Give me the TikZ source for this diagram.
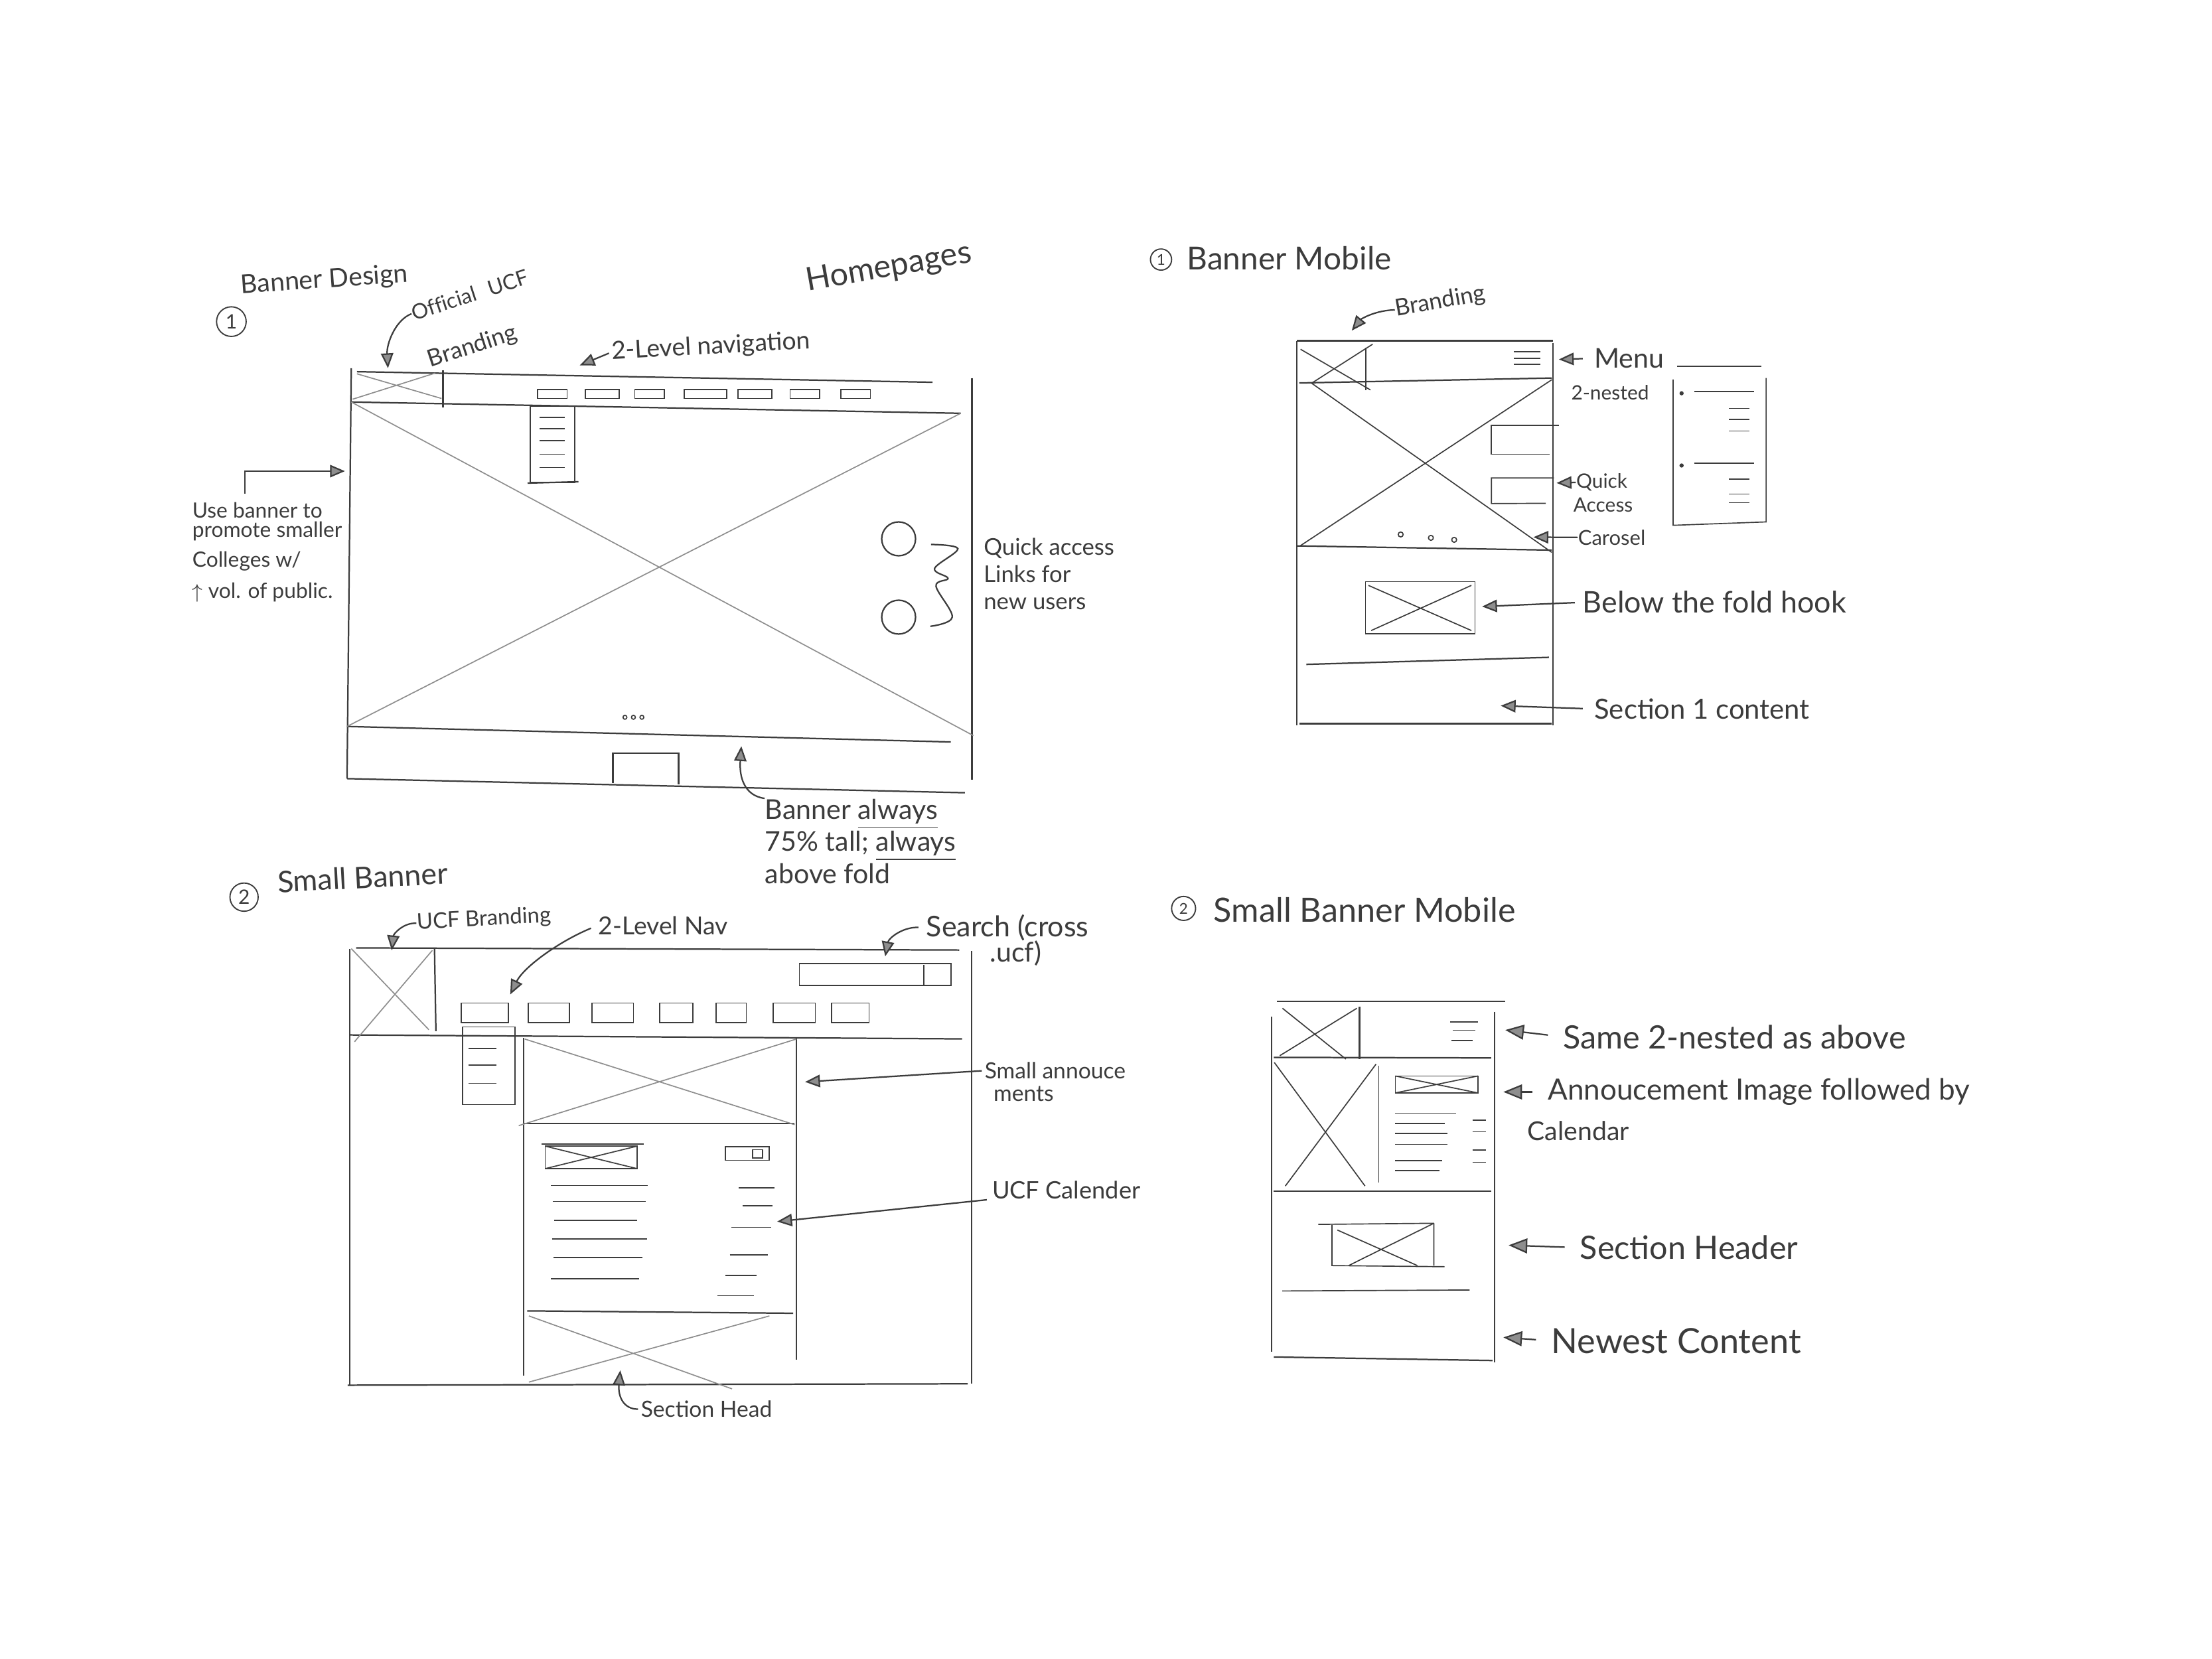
\documentclass[tikz,border=0pt]{standalone}
\usepackage{fontspec}
\setmainfont{Lato}
\usetikzlibrary{arrows.meta}
\definecolor{pencil}{HTML}{3C3C3C}
\definecolor{lead}{HTML}{8E8E8E}
\newcommand{\pen}[2]{\fontsize{#1}{#2}\selectfont}

\begin{document}
\begin{tikzpicture}[x=0.02cm,y=-0.02cm,
  wire/.style={draw=pencil,line width=0.6pt},
  thin wire/.style={draw=pencil,line width=0.45pt},
  cross/.style={draw=lead,line width=0.45pt},
  note/.style={text=pencil,inner sep=0pt,align=left},
  numcirc/.style={circle,draw=pencil,line width=0.5pt,inner sep=0pt,text=pencil},
  pointer/.style={draw=pencil,line width=0.6pt,-{Triangle[length=6pt,width=5pt,fill=lead]}},
  big pointer/.style={pointer,-{Triangle[length=7.5pt,width=6pt,fill=lead]}}]
  % paper
  \fill[white] (0,0) rectangle (1568,1176);
  \useasboundingbox (0,0) rectangle (1568,1176);

  %% 1 -- Banner Design (desktop)
  \node[note,font=\pen{10.5}{12},rotate=4] (bdtitle) at (230,199) {Banner Design};
  \node[numcirc,minimum size=0.42cm,font=\pen{8}{9}] (bdnum) at (164,228) {1};
  \node[note,font=\pen{13}{15},rotate=10] (homepages) at (630,190) {Homepages};
  % frame
  \draw[wire] (253,263.5) -- (661,271);
  \draw[wire] (249,285) -- (681,293);
  \draw[wire] (249,261) -- (246,552);
  \draw[wire] (689,268) -- (689,553);
  \draw[wire] (246,515) -- (674,526);
  \draw[wire] (246,552) -- (684,562);
  % branding box
  \draw[wire] (314,262.5) -- (314,289);
  \draw[cross] (253,265) -- (313,282.5) (250,283) -- (308.5,264.5);
  % hero image
  \draw[cross] (249,285) -- (690,521.5) (681,293) -- (246,515);
  % nav items
  \foreach \a/\b in {381/402,415/439,450/471,485/515,523/547,560/581,596/617}
    \draw[thin wire] (\a,276) rectangle (\b,282.5);
  % dropdown
  \draw[thin wire] (376,288) rectangle (407.5,342);
  \draw[wire] (374,342.5) -- (410,341.5);
  \foreach \y in {296,304,312.5,322,331.5}
    \draw[thin wire] (382.5,\y) -- (400.5,\y);
  % quick links
  \draw[wire] (637,382) circle[radius=0.24cm];
  \draw[wire] (637,437.5) circle[radius=0.24cm];
  \draw[wire] plot[smooth,tension=0.6] coordinates {(660,386) (679,389) (662.5,403) (672,410) (663.5,415.5) (675,437.5) (659.5,444)};
  % carousel dots + tab
  \foreach \x in {443,449,455}
    \draw[thin wire] (\x,508.5) circle[radius=0.028cm];
  \draw[wire] (434.5,555) -- (434.5,534) -- (481,534) -- (481,556);
  % notes
  \node[note,font={\pen{8.5}{9}\addfontfeatures{Ligatures=NoCommon}},rotate=18] (official) at (333,209) {Official\hspace{3pt} UCF};
  \node[note,font=\pen{9.5}{10},rotate=18] (officialb) at (335,246) {Branding};
  \coordinate (officialtip) at (275,261);
  \draw[pointer] (official.west) .. controls (280,227) and (274,244) .. (officialtip);
  \node[note,font=\pen{10}{11},rotate=3] (navnote) at (504,246) {2-Level navigation};
  \coordinate (navtip) at (411,259);
  \draw[pointer,shorten <=1pt] (navnote.west) -- (navtip);
  \node[note,anchor=north west,font=\pen{8.5}{11}] (promo) at (136,356) {Use banner to\\[-3.3pt]promote smaller\\[1pt]Colleges w/\\[1.5pt]$\uparrow$ vol. of public.};
  \coordinate (promofoot) at (173.5,350);
  \coordinate (promotip) at (244.5,334);
  \draw[pointer] (promofoot) |- (promotip);
  \node[note,anchor=west,font=\pen{9.3}{11}] (quick) at (697,407) {Quick access\\Links for\\new users};
  \node[note,anchor=north west,font=\pen{11}{11.8}] (always) at (542,566) {Banner \underline{always}\\75\% tall; \underline{always}\\above fold};
  \coordinate (alwaystip) at (525.5,529);
  \draw[pointer] (always.north west) .. controls (527,564) and (524,550) .. (alwaystip);

  %% 2 -- Small Banner (desktop)
  \node[numcirc,minimum size=0.4cm,font=\pen{8}{9}] (sbnum) at (173,636) {2};
  \node[note,font=\pen{12}{14},rotate=3] (sbtitle) at (257,622) {Small Banner};
  % frame
  \draw[wire] (252.5,672) -- (680,673.5);
  \draw[wire] (248,733.7) -- (682,736.5);
  \draw[wire] (248,672.5) -- (248,982);
  \draw[wire] (688.7,674.3) -- (688.7,981);
  \draw[wire] (246.5,982) -- (686,981);
  % branding box
  \draw[wire] (308,672.5) -- (309,731);
  \draw[cross] (249,672.5) -- (304,730) (306.5,673.7) -- (251.3,738.5);
  % search field
  \draw[thin wire] (566.6,683) rectangle (674,698.6);
  \draw[thin wire] (655,684) -- (655,698);
  % nav items
  \foreach \a/\b in {327/360.5,374.5/403.5,419.5/449,467.5/491,507.5/529,548/578,589.5/616}
    \draw[thin wire] (\a,711) rectangle (\b,725);
  % dropdown
  \draw[thin wire] (328,728) rectangle (365,783);
  \foreach \y in {743.3,755,768}
    \draw[thin wire] (332,\y) -- (352,\y);
  % content column
  \draw[thin wire] (371.3,736) -- (371.3,975);
  \draw[thin wire] (564.6,736) -- (564.6,964);
  \draw[wire] (371.3,796.6) -- (563.3,796.6);
  \draw[cross] (372,736.6) -- (563.3,797.3) (367.7,798) -- (564.5,736.6);
  % announcement + calendar
  \draw[thin wire] (384,811) -- (456.5,811);
  \draw[thin wire] (386.4,812.5) rectangle (451.7,828.5);
  \draw[thin wire] (386.4,828.5) -- (451.7,812.5) (386.4,812.5) -- (451.7,828.5);
  \draw[thin wire] (514.2,813) rectangle (545.4,822.5);
  \draw[thin wire] (533.5,815) rectangle (540.5,821);
  \foreach \y/\a/\b in {840.5/390.5/459,851.8/391.7/457.7,865/393/451.7,878.4/391.2/458.5,891.6/392.5/455.4,906.5/390.5/453}
    \draw[thin wire] (\a,\y) -- (\b,\y);
  \foreach \y/\a/\b in {842.2/523.8/548.9,854.9/526.2/547.8,870.1/518.4/546.5,889.7/517.3/544.1,904.1/514.2/536.2,918.5/508.4/534.5}
    \draw[thin wire] (\a,\y) -- (\b,\y);
  % section head
  \draw[wire] (373.7,929.3) -- (562.2,931);
  \draw[cross] (374.9,932.9) -- (518.9,984.6) (545.4,932.9) -- (374.9,979.8);
  % notes
  \node[note,font=\pen{8.8}{10},rotate=3] (ucfbrand) at (343,652) {UCF Branding};
  \coordinate (ucfbrandtip) at (277.7,673.7);
  \draw[pointer] (ucfbrand.west) .. controls (286,654) and (279,662) .. (ucfbrandtip);
  \node[note,font=\pen{10}{12}] (navshort) at (470,656) {2-Level Nav};
  \coordinate (navshorttip) at (361.7,705);
  \draw[pointer,shorten <=3pt] (navshort.west) .. controls (395,668) and (371,686) .. (navshorttip);
  \node[note,anchor=west,font=\pen{11.5}{12}] (search) at (656.3,657.7) {Search (cross};
  \node[note,anchor=west,font=\pen{11}{12}] (searchb) at (701.3,676) {.ucf)};
  \coordinate (searchtip) at (627.5,678);
  \draw[pointer,shorten <=3pt] (search.west) .. controls (640,657) and (630,665) .. (searchtip);
  \node[note,anchor=west,font=\pen{9}{10}] (annc) at (697.7,759) {Small annouce};
  \node[note,anchor=west,font=\pen{9}{10}] (anncb) at (704,775.5) {ments};
  \coordinate (annctip) at (570.7,767);
  \draw[pointer,shorten <=1pt] (annc.west) -- (annctip);
  \node[note,anchor=west,font=\pen{9.7}{11}] (ucfcal) at (703,843.5) {UCF Calender};
  \coordinate (ucfcaltip) at (550.9,866);
  \draw[pointer,shorten <=2pt] (ucfcal.south west) -- (ucfcaltip);
  \node[note,anchor=west,font=\pen{9}{10}] (sechead) at (454,999) {Section Head};
  \coordinate (secheadtip) at (439.7,971.5);
  \draw[pointer,shorten <=1pt] (sechead.west) .. controls (442,999) and (438,990) .. (secheadtip);

  %% 1 -- Banner Mobile
  \node[numcirc,minimum size=0.3cm,font=\pen{6}{7}] (bmnum) at (823,184) {1};
  \node[note,anchor=west,font=\pen{12.8}{14}] (bmtitle) at (841,183) {Banner Mobile};
  % frame
  \draw[wire] (919.2,241.6) -- (1101,241.6);
  \draw[wire] (919.2,241.6) -- (919.2,514);
  \draw[wire] (1100.8,243) -- (1100.8,514);
  \draw[wire] (921,271.5) -- (1100,268);
  \draw[wire] (919.2,387) -- (1100,390);
  \draw[wire] (926,471) -- (1098,466);
  \draw[wire] (921,513) -- (1100,513);
  % branding + menu icon
  \draw[wire] (968,246.4) -- (968,276.4);
  \draw[thin wire] (921.9,247.6) -- (971.4,276.4) (930,271.5) -- (973,244);
  \foreach \y in {249.2,254,258.4}
    \draw[thin wire] (1073,\y) -- (1091.8,\y);
  % hero image
  \draw[thin wire] (929.5,271.5) -- (1100,391.6) (1100,269.2) -- (921.9,386.8);
  % quick access tabs
  \draw[thin wire] (1105,301.6) -- (1057.2,301.6) -- (1057.2,322) -- (1098.5,322);
  \draw[thin wire] (1101.5,338.8) -- (1057.2,338.8) -- (1057.2,357) -- (1095.7,356.8);
  \foreach \x/\y in {992.9/378.9,1014.3/381.3,1030.8/382.7}
    \draw[thin wire] (\x,\y) circle[radius=0.035cm];
  % hook image
  \draw[thin wire] (968,412.4) rectangle (1045.6,449.2);
  \draw[thin wire] (970,415) -- (1043,447) (972,447) -- (1043,415);
  % nested menu
  \draw[wire] (1189,259.6) -- (1248.6,259.6);
  \draw[thin wire] (1186,269) -- (1186,372.4) -- (1251.9,370) -- (1251.9,268);
  \foreach \y/\d in {277.6/278.8,328.3/330}{
    \draw[thin wire] (1200.8,\y) -- (1243.6,\y);
    \fill[pencil] (1192,\d) circle[radius=0.03cm];
  }
  \foreach \y in {289.6,297.2,305.6,339.5,350.3,356.3}
    \draw[thin wire] (1225.5,\y) -- (1240.3,\y);
  % notes
  \node[note,font=\pen{9.4}{11},rotate=10] (mbrand) at (1021,214) {Branding};
  \coordinate (mbrandtip) at (958.2,234.4);
  \draw[pointer] (mbrand.west) .. controls (975,220) and (965,226) .. (mbrandtip);
  \node[note,anchor=west,font=\pen{11}{13}] (menu) at (1129.8,254) {Menu};
  \coordinate (menutip) at (1105,254.8);
  \draw[pointer,shorten <=4.5pt] (menu.west) -- (menutip);
  \node[note,font=\pen{8}{9}] (nested) at (1141.3,278.5) {2-nested};
  \node[note,anchor=west,font=\pen{8}{9}] (quickm) at (1117,342) {Quick};
  \node[note,anchor=west,font=\pen{8}{9}] (accessm) at (1115,358) {Access};
  \coordinate (quickmtip) at (1103.4,342.4);
  \draw[pointer] (quickm.west) -- (quickmtip);
  \node[note,anchor=west,font=\pen{8.3}{9}] (carosel) at (1118.3,381) {Carosel};
  \coordinate (caroseltip) at (1087,380.8);
  \draw[pointer] (carosel.west) -- (caroseltip);
  \node[note,anchor=west,font=\pen{12}{13}] (hook) at (1121.6,427) {Below the fold hook};
  \coordinate (hooktip) at (1050.6,430);
  \draw[pointer,shorten <=3pt] (hook.west) -- (hooktip);
  \node[note,anchor=west,font=\pen{11.2}{12}] (sec1) at (1129.8,502.6) {Section 1 content};
  \coordinate (sec1tip) at (1063.8,500.3);
  \draw[pointer,shorten <=4.5pt] (sec1.west) -- (sec1tip);

  %% 2 -- Small Banner Mobile
  \node[numcirc,minimum size=0.34cm,font=\pen{6}{7}] (sbmnum) at (839,644) {2};
  \node[note,anchor=west,font=\pen{13.5}{14}] (sbmtitle) at (860,645) {Small Banner Mobile};
  % frame
  \draw[wire] (905.2,710) -- (1067,710);
  \draw[wire] (901.3,720.8) -- (901.3,958.4);
  \draw[wire] (1059.3,717.2) -- (1059.3,965.7);
  \draw[wire] (903,749.6) -- (1057,750);
  \draw[wire] (903,844.4) -- (1057,844.4);
  \draw[thin wire] (909,915.2) -- (1041.7,914.5);
  \draw[wire] (903,962) -- (1058,964.5);
  % branding + menu icon
  \draw[wire] (963.7,713.6) -- (963.7,750.8);
  \draw[thin wire] (909.1,714.8) -- (954,750.8) (907.2,748.4) -- (961.8,714.8);
  \draw[thin wire] (1028,724.4) -- (1047.6,724.4) (1030,730.4) -- (1046,730.4) (1029,737.6) -- (1044,737.6);
  % announcement image + calendar
  \draw[thin wire] (903.3,753.2) -- (967.6,840.8) (975.4,754.4) -- (911.1,840.8);
  \draw[thin wire] (977.4,755.6) -- (977.4,838.4);
  \draw[thin wire] (989.1,762.8) rectangle (1047.6,774.8);
  \draw[thin wire] (989.1,774.8) -- (1047.6,762.8) (989.1,762.8) -- (1047.6,774.8);
  \foreach \y/\b in {789.2/1032,796.4/1024.2,803.6/1026.2,811.3/1026.2,822.8/1022.3,830/1020.3}
    \draw[thin wire] (989.1,\y) -- (\b,\y);
  \foreach \y in {794,802.4,815.2,824}
    \draw[thin wire] (1043.7,\y) -- (1053.4,\y);
  % section header image
  \draw[thin wire] (934.5,868) -- (1016.4,867.2);
  \draw[thin wire] (944.2,868.4) -- (944.2,897.2) -- (1024,898) (1016.4,867.2) -- (1016.4,897.2);
  \draw[thin wire] (948,872) -- (1004.7,897.2) (1016.4,867.2) -- (956,897.2);
  % notes
  \node[note,anchor=west,font=\pen{13}{14}] (same) at (1107.7,735) {Same 2-nested as above};
  \coordinate (sametip) at (1067,730.2);
  \draw[big pointer,shorten <=6pt] (same.west) -- (sametip);
  \node[note,anchor=west,font=\pen{11.8}{13}] (annimg) at (1096.9,774.1) {Annoucement Image followed by};
  \node[note,anchor=west,font=\pen{10.5}{12}] (annimgb) at (1082.5,801.7) {Calendar};
  \coordinate (annimgtip) at (1065.7,774.1);
  \draw[big pointer,shorten <=6pt] (annimg.west) -- (annimgtip);
  \node[note,anchor=west,font=\pen{13}{15}] (sechdr) at (1119.7,884.5) {Section Header};
  \coordinate (sechdrtip) at (1069.4,882.8);
  \draw[big pointer,shorten <=6pt] (sechdr.west) -- (sechdrtip);
  \node[note,anchor=west,font=\pen{14}{15}] (newest) at (1099.3,950.5) {Newest Content};
  \coordinate (newesttip) at (1065.7,948.1);
  \draw[big pointer,shorten <=6pt] (newest.west) -- (newesttip);
\end{tikzpicture}
\end{document}
